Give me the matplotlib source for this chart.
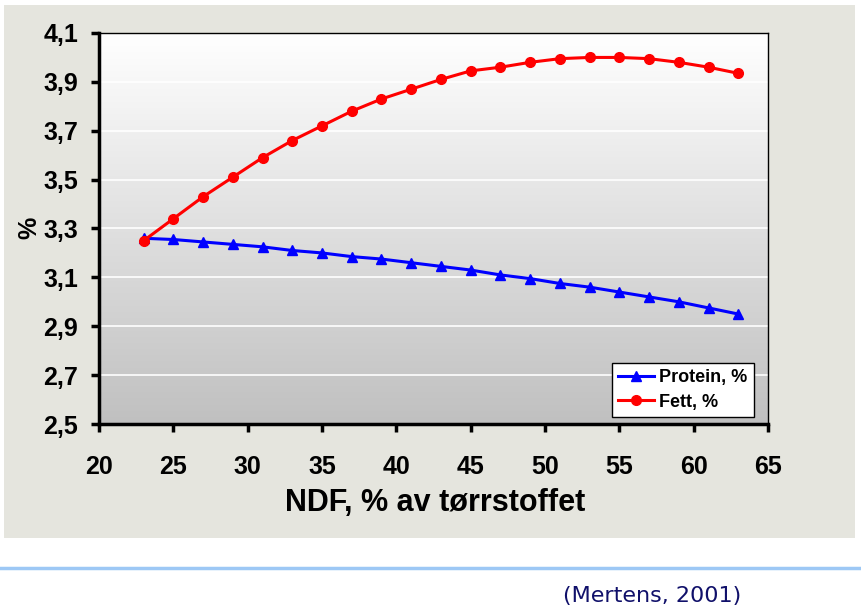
import matplotlib
matplotlib.use('Agg')
import matplotlib.pyplot as plt
import numpy as np
from matplotlib.patches import Rectangle
from matplotlib.lines import Line2D

# data
ndf = [23, 25, 27, 29, 31, 33, 35, 37, 39, 41, 43, 45, 47, 49, 51, 53, 55, 57, 59, 61, 63]
protein = [3.26, 3.255, 3.245, 3.235, 3.225, 3.21, 3.20, 3.185, 3.175, 3.16, 3.145,
           3.13, 3.11, 3.095, 3.075, 3.06, 3.04, 3.02, 3.00, 2.975, 2.95]
fett = [3.25, 3.34, 3.43, 3.51, 3.59, 3.66, 3.72, 3.78, 3.83, 3.87, 3.91,
        3.945, 3.96, 3.98, 3.995, 4.0, 4.0, 3.995, 3.98, 3.96, 3.935]
y_ticks = [2.5, 2.7, 2.9, 3.1, 3.3, 3.5, 3.7, 3.9, 4.1]
x_ticks = [20, 25, 30, 35, 40, 45, 50, 55, 60, 65]

plt.rcParams['font.family'] = ['Liberation Sans', 'DejaVu Sans']

fig = plt.figure(figsize=(8.61, 6.15), dpi=100)
W, H = 861, 615

# grå bakgrunn rundt diagrammet
fig.add_artist(Rectangle((4 / W, 1 - 538 / H), 851 / W, 533 / H,
                         transform=fig.transFigure, facecolor='#E5E5DE',
                         edgecolor='none', zorder=-5))

ax = fig.add_axes([99 / W, 1 - 424 / H, 669 / W, 391 / H])
ax.set_zorder(2)

# gradient i plottområdet
grad = np.linspace(0, 1, 256).reshape(-1, 1)
ax.imshow(grad, extent=[0, 1, 0, 1], transform=ax.transAxes, aspect='auto',
          cmap=matplotlib.colors.LinearSegmentedColormap.from_list('g', ['#C0C0C0', '#FFFFFF']),
          origin='lower', zorder=0)

for y in y_ticks[1:-1]:
    ax.axhline(y, color='white', lw=1.2, zorder=1)

ax.plot(ndf, protein, color='#0000FF', lw=2.2, marker='^', ms=7, zorder=3,
        label='Protein, %')
ax.plot(ndf, fett, color='#FF0000', lw=2.2, marker='o', ms=7, zorder=3,
        label='Fett, %')

ax.set_xlim(20, 65)
ax.set_ylim(2.5, 4.1)
ax.set_xticks(x_ticks)
ax.set_yticks(y_ticks)
ax.set_yticklabels([f"{v:.1f}".replace('.', ',') for v in y_ticks])
ax.set_xticklabels([str(v) for v in x_ticks])

for s in ['top', 'right']:
    ax.spines[s].set_linewidth(1)
for s in ['left', 'bottom']:
    ax.spines[s].set_linewidth(2.5)
ax.tick_params(axis='y', direction='out', length=6, width=2.5, pad=9,
               labelsize=18)
ax.tick_params(axis='x', direction='out', length=6, width=2.5, pad=16,
               labelsize=18)
for lab in ax.get_xticklabels() + ax.get_yticklabels():
    lab.set_fontweight('bold')

leg = ax.legend(loc='lower right', bbox_to_anchor=(754 / W, 1 - 417 / H),
                bbox_transform=fig.transFigure, frameon=True, fancybox=False,
                edgecolor='black', framealpha=1, prop={'weight': 'bold', 'size': 13},
                handlelength=2.0, handletextpad=0.3, borderpad=0.35,
                labelspacing=0.4, borderaxespad=0)
leg.get_frame().set_linewidth(1)

fig.text(29 / W, 1 - 228 / H, '%', rotation=90, ha='center', va='center',
         fontsize=18, fontweight='bold')
fig.text(435 / W, 1 - 503 / H, 'NDF, % av tørrstoffet', ha='center', va='center',
         fontsize=22, fontweight='bold')

# blå skillelinje og kilde
fig.add_artist(Line2D([0, 1], [1 - 568 / H, 1 - 568 / H], transform=fig.transFigure,
                      color='#9DC8F5', lw=2.5))
fig.text(652 / W, 1 - 596 / H, '(Mertens, 2001)', ha='center', va='center',
         fontsize=16, color='#10106A', family='DejaVu Sans')

fig.savefig('out.png', dpi=100)
